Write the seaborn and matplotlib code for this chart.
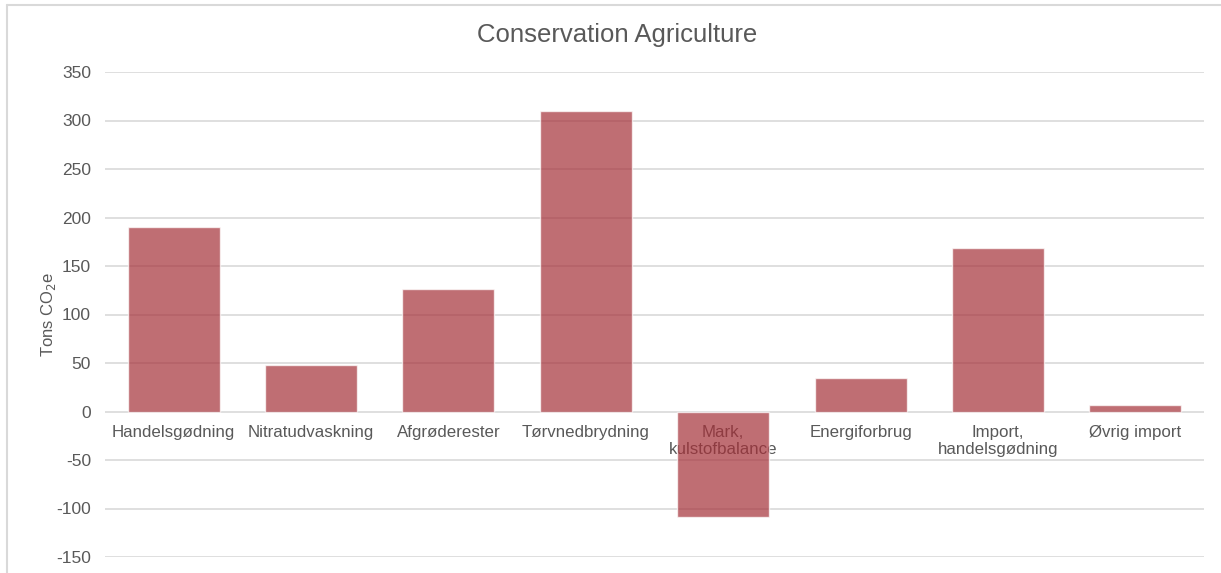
import matplotlib
matplotlib.use("Agg")
import matplotlib.pyplot as plt
from matplotlib.lines import Line2D
import seaborn as sns
import pandas as pd

categories = ["Handelsgødning", "Nitratudvaskning", "Afgrøderester", "Tørvnedbrydning",
              "Mark,\nkulstofbalance", "Energiforbrug", "Import,\nhandelsgødning", "Øvrig import"]
values = [190, 48, 126, 310, -109, 35, 169, 6.5]
yticks = [-150, -100, -50, 0, 50, 100, 150, 200, 250, 300, 350]

sns.set_theme(style="white")
plt.rcParams['font.family'] = ['Liberation Sans', 'DejaVu Sans']
plt.rcParams['axes.unicode_minus'] = False

df = pd.DataFrame({"cat": categories, "val": values})

fig = plt.figure(figsize=(12.21, 5.73), dpi=100)
ax = fig.add_axes([105/1221, 1-557/573, (1204-105)/1221, (557-72)/573])

grey_text = "#595959"
ax.set_ylim(-150, 350)
ax.set_yticks(yticks)
ax.yaxis.grid(True, color="#D9D9D9", linewidth=1.2, zorder=0)
ax.set_axisbelow(True)

for i, c in enumerate(categories):
    ax.text(i, -14, c, ha="center", va="top", fontsize=12.2, color=grey_text,
            linespacing=1.2, zorder=1)

sns.barplot(data=df, x="cat", y="val", order=categories, color=(165/255, 48/255, 56/255),
            saturation=1, alpha=0.7, width=0.67, ax=ax, zorder=2)

ax.set_xlim(-0.5, 7.5)
ax.set_xticks([])
ax.set_xlabel("")
ax.set_ylabel("Tons CO$_2$e", fontsize=12, color=grey_text, labelpad=-1)
ax.tick_params(axis="y", labelsize=12.5, colors=grey_text, length=0, pad=10)
for s in ax.spines.values():
    s.set_visible(False)

fig.text(617/1221, 1-35/573, "Conservation Agriculture", ha="center", va="center",
         fontsize=18.5, color=grey_text)

fig.add_artist(Line2D([7/1221, 7/1221], [0, 1-4.5/573], transform=fig.transFigure,
                      color="#D9D9D9", linewidth=1.5))
fig.add_artist(Line2D([7/1221, 1], [1-4.5/573, 1-4.5/573], transform=fig.transFigure,
                      color="#D9D9D9", linewidth=1.5))

fig.savefig("out.png", dpi=100)
